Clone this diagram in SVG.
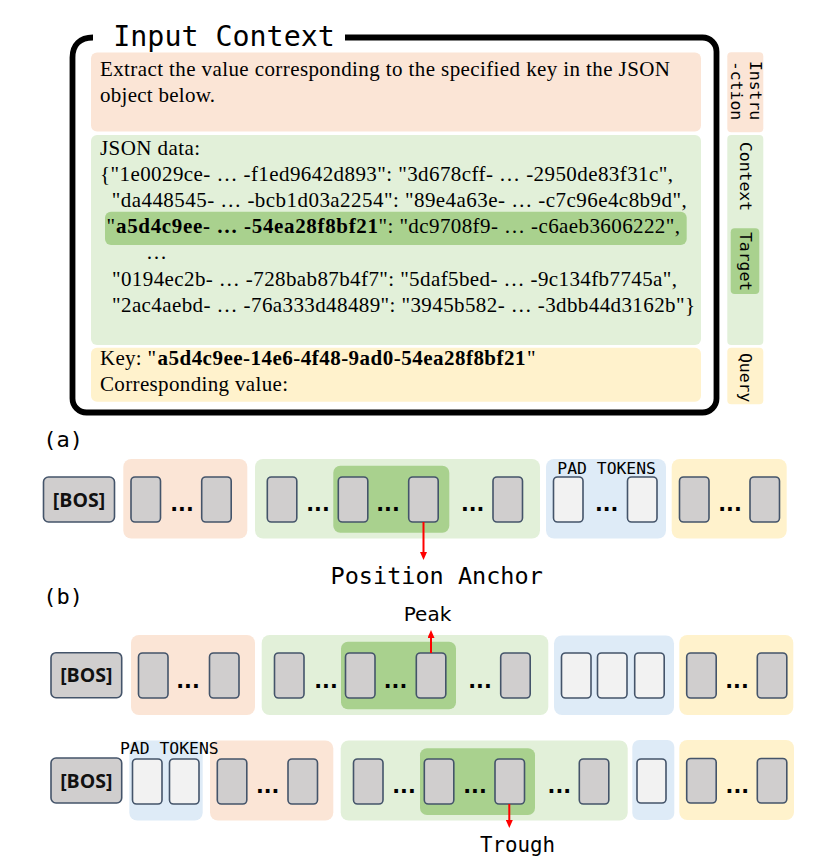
<svg xmlns="http://www.w3.org/2000/svg" width="830" height="865" viewBox="0 0 830 865">
<style>
.tok{fill:#D0CECE;stroke:#44546A;stroke-width:1.6}
.pad{fill:#F2F2F2;stroke:#44546A;stroke-width:1.6}
.or{fill:#FBE5D6}.gr{fill:#E2F0D9}.dg{fill:#A9D18E}.bl{fill:#DEEBF7}.ye{fill:#FFF2CC}
.dots{font-family:"DejaVu Sans",sans-serif;font-weight:bold;font-size:20.5px;text-anchor:middle;fill:#000}
.mono{font-family:"DejaVu Sans Mono","Liberation Mono",monospace;fill:#000}
.serif{font-family:"Liberation Serif","Times New Roman",serif;font-size:21px;fill:#000}
.b{font-weight:bold}
.bos{font-family:"Open Sans","DejaVu Sans",sans-serif;font-weight:bold;font-size:19.5px;text-anchor:middle;fill:#111}
.side{font-family:"DejaVu Sans Mono",monospace;font-size:16.4px;fill:#000}
.arr{stroke:#FF0000;stroke-width:2;fill:none;marker-end:url(#ah)}
</style>
<defs>
<marker id="ah" viewBox="0 0 8 7" refX="0" refY="3.5" markerWidth="4" markerHeight="3.5" orient="auto" markerUnits="strokeWidth">
<path d="M0,0 L8,3.5 L0,7 z" fill="#FF0000"/>
</marker>
</defs>

<!-- Input Context panel -->
<g id="input-context">
<path d="M93,37.5 C80,37.5 72.5,45 72.5,57.5 V398.5 A14 14 0 0 0 86.5,412.5 H702.5 A14 14 0 0 0 716.5,398.5 V51.5 A14 14 0 0 0 702.5,37.5 H345" fill="none" stroke="#000" stroke-width="5.8"/>
<text class="mono" x="113.3" y="46" font-size="28.3">Input Context</text>
</g>

<g id="instruction">
<rect class="or" x="91" y="52.5" width="610" height="79" rx="6"/>
<text class="serif" x="100" y="76" textLength="570" lengthAdjust="spacing">Extract the value corresponding to the specified key in the JSON</text>
<text class="serif" x="100" y="102" textLength="115" lengthAdjust="spacing">object below.</text>
</g>

<g id="context">
<rect class="gr" x="91" y="135" width="610" height="210" rx="6"/>
<text class="serif" x="100" y="155" textLength="100" lengthAdjust="spacing">JSON data:</text>
<text class="serif" x="100" y="181" textLength="573" lengthAdjust="spacing">{"1e0029ce- … -f1ed9642d893": "3d678cff- … -2950de83f31c",</text>
<text class="serif" x="111.7" y="207" textLength="575" lengthAdjust="spacing">"da448545- … -bcb1d03a2254": "89e4a63e- … -c7c96e4c8b9d",</text>
<g id="target">
<rect class="dg" x="105" y="211.7" width="581.7" height="33.3" rx="6"/>
<text class="serif" x="106.5" y="233">"</text>
<text class="serif b" x="116" y="233" textLength="262" lengthAdjust="spacing">a5d4c9ee- … -54ea28f8bf21</text>
<text class="serif" x="378.5" y="233" textLength="301.5" lengthAdjust="spacing">": "dc9708f9- … -c6aeb3606222",</text>
</g>
<text class="serif" x="146" y="259">…</text>
<text class="serif" x="112" y="285.5" textLength="565" lengthAdjust="spacing">"0194ec2b- … -728bab87b4f7": "5daf5bed- … -9c134fb7745a",</text>
<text class="serif" x="112" y="311.5" textLength="583" lengthAdjust="spacing">"2ac4aebd- … -76a333d48489": "3945b582- … -3dbb44d3162b"}</text>
</g>

<g id="query">
<rect class="ye" x="91" y="347.7" width="610" height="54" rx="6"/>
<text class="serif" x="100" y="365" textLength="56" lengthAdjust="spacing">Key: "</text>
<text class="serif b" x="157.5" y="365" textLength="368" lengthAdjust="spacing">a5d4c9ee-14e6-4f48-9ad0-54ea28f8bf21</text>
<text class="serif" x="527" y="365">"</text>
<text class="serif" x="100" y="391" textLength="188" lengthAdjust="spacing">Corresponding value:</text>
</g>

<!-- side labels -->
<g id="label-instruction">
<rect class="or" x="727.3" y="52.3" width="36" height="80" rx="4"/>
<text class="side" transform="translate(750,61) rotate(90)">Instru</text>
<text class="side" transform="translate(730.7,61) rotate(90)">-ction</text>
</g>
<g id="label-context">
<rect class="gr" x="727.3" y="135" width="36" height="210" rx="4"/>
<text class="side" transform="translate(740,142) rotate(90)">Context</text>
</g>
<g id="label-target">
<rect class="dg" x="730.7" y="228.3" width="28.6" height="65.7" rx="4"/>
<text class="side" transform="translate(740,232) rotate(90)">Target</text>
</g>
<g id="label-query">
<rect class="ye" x="727.3" y="347.7" width="36" height="56.6" rx="4"/>
<text class="side" transform="translate(740,353) rotate(90)">Query</text>
</g>

<!-- (a) -->
<text class="mono" x="43.3" y="446.5" font-size="22">(a)</text>
<g id="a-bos"><rect class="tok" x="43.5" y="477" width="71" height="45" rx="5"/><text class="bos" x="79" y="506.5">[BOS]</text></g>
<g id="a-instruction">
<rect class="or" x="123.3" y="459" width="124" height="79.5" rx="8"/>
<rect class="tok" x="131" y="477" width="29.5" height="45" rx="4"/>
<rect class="tok" x="201.7" y="477" width="29.5" height="45" rx="4"/>
<text class="dots" x="182" y="511">...</text>
</g>
<g id="a-context">
<rect class="gr" x="255" y="459" width="285" height="79.5" rx="8"/>
<rect class="dg" x="333.3" y="465.7" width="116" height="67" rx="7"/>
<rect class="tok" x="267.3" y="477" width="29.5" height="45" rx="4"/>
<rect class="tok" x="338.3" y="477" width="29.5" height="45" rx="4"/>
<rect class="tok" x="408.7" y="477" width="29.5" height="45" rx="4"/>
<rect class="tok" x="493" y="477" width="29.5" height="45" rx="4"/>
<text class="dots" x="318" y="511">...</text>
<text class="dots" x="388" y="511">...</text>
<text class="dots" x="472.7" y="511">...</text>
</g>
<g id="a-pad">
<rect class="bl" x="546" y="459" width="120" height="79.5" rx="8"/>
<text class="mono" x="557.3" y="474" font-size="16.4">PAD TOKENS</text>
<rect class="pad" x="553.5" y="477" width="29.5" height="45" rx="4"/>
<rect class="pad" x="627.5" y="477" width="29.5" height="45" rx="4"/>
<text class="dots" x="606.7" y="511">...</text>
</g>
<g id="a-query">
<rect class="ye" x="671.7" y="459" width="115" height="79.5" rx="8"/>
<rect class="tok" x="679.5" y="477" width="29.5" height="45" rx="4"/>
<rect class="tok" x="750" y="477" width="29.5" height="45" rx="4"/>
<text class="dots" x="730" y="511">...</text>
</g>
<text id="a-anchor-label" class="mono" x="436.7" y="584" font-size="23.5" text-anchor="middle">Position Anchor</text>

<!-- (b) -->
<text class="mono" x="43.3" y="604" font-size="22">(b)</text>
<g id="b1-bos"><rect class="tok" x="51" y="652.7" width="70.7" height="45" rx="5"/><text class="bos" x="86.3" y="682">[BOS]</text></g>
<g id="b1-instruction">
<rect class="or" x="131" y="635" width="124" height="80" rx="8"/>
<rect class="tok" x="138.5" y="653" width="29.5" height="45" rx="4"/>
<rect class="tok" x="209.5" y="653" width="29.5" height="45" rx="4"/>
<text class="dots" x="188" y="688">...</text>
</g>
<g id="b1-context">
<rect class="gr" x="261.7" y="635" width="286.6" height="80" rx="8"/>
<rect class="dg" x="341" y="641.7" width="115" height="67.6" rx="7"/>
<rect class="tok" x="274.5" y="653" width="29.5" height="45" rx="4"/>
<rect class="tok" x="345.5" y="653" width="29.5" height="45" rx="4"/>
<rect class="tok" x="416.3" y="653" width="29.5" height="45" rx="4"/>
<rect class="tok" x="500.7" y="653" width="29.5" height="45" rx="4"/>
<text class="dots" x="326" y="688">...</text>
<text class="dots" x="395.5" y="688">...</text>
<text class="dots" x="480" y="688">...</text>
</g>
<g id="b1-pad">
<rect class="bl" x="554" y="635.5" width="120" height="79.5" rx="8"/>
<rect class="pad" x="561.5" y="653" width="29.5" height="45" rx="4"/>
<rect class="pad" x="597.5" y="653" width="29.5" height="45" rx="4"/>
<rect class="pad" x="634.7" y="653" width="29.5" height="45" rx="4"/>
</g>
<g id="b1-query">
<rect class="ye" x="679.3" y="635" width="114" height="80" rx="8"/>
<rect class="tok" x="686.7" y="653" width="29.5" height="45" rx="4"/>
<rect class="tok" x="757.3" y="653" width="29.5" height="45" rx="4"/>
<text class="dots" x="737" y="688">...</text>
</g>
<text id="b1-peak-label" x="427.5" y="620.7" font-family="DejaVu Sans, sans-serif" font-size="20" text-anchor="middle" fill="#000">Peak</text>

<g id="b2-bos"><rect class="tok" x="51" y="758" width="70.7" height="45" rx="5"/><text class="bos" x="86.3" y="787.5">[BOS]</text></g>
<g id="b2-instruction">
<rect class="or" x="210" y="740.5" width="123.3" height="80" rx="8"/>
<rect class="tok" x="217.3" y="759" width="29.5" height="45" rx="4"/>
<rect class="tok" x="288" y="759" width="29.5" height="45" rx="4"/>
<text class="dots" x="267.7" y="793">...</text>
</g>
<g id="b2-pad-front">
<rect class="bl" x="129.3" y="740.5" width="73.4" height="80" rx="8"/>
<rect class="pad" x="132.5" y="759" width="29.5" height="45" rx="4"/>
<rect class="pad" x="169.5" y="759" width="29.5" height="45" rx="4"/>
<text class="mono" x="120" y="754" font-size="16.4">PAD TOKENS</text>
</g>
<g id="b2-context">
<rect class="gr" x="340.7" y="740.5" width="287" height="80" rx="8"/>
<rect class="dg" x="420" y="748.3" width="115" height="66.7" rx="7"/>
<rect class="tok" x="353.5" y="759" width="29.5" height="45" rx="4"/>
<rect class="tok" x="424.3" y="759" width="29.5" height="45" rx="4"/>
<rect class="tok" x="495" y="759" width="29.5" height="45" rx="4"/>
<rect class="tok" x="579.3" y="759" width="29.5" height="45" rx="4"/>
<text class="dots" x="404" y="793">...</text>
<text class="dots" x="475" y="793">...</text>
<text class="dots" x="559.3" y="793">...</text>
</g>
<g id="b2-pad-mid">
<rect class="bl" x="632.3" y="740" width="42" height="80" rx="7"/>
<rect class="pad" x="637" y="759" width="29" height="44" rx="4"/>
</g>
<g id="b2-query">
<rect class="ye" x="679.3" y="740" width="114.7" height="80" rx="8"/>
<rect class="tok" x="686.7" y="758.5" width="29.5" height="44.5" rx="4"/>
<rect class="tok" x="757.3" y="758.5" width="29.5" height="44.5" rx="4"/>
<text class="dots" x="737.3" y="793">...</text>
</g>
<text id="b2-trough-label" class="mono" x="517.5" y="851.7" font-size="20.8" text-anchor="middle">Trough</text>

<!-- connectors -->
<g id="connectors">
<line class="arr" x1="423.5" y1="522" x2="423.5" y2="552"/>
<line class="arr" x1="431" y1="653" x2="431" y2="638"/>
<line class="arr" x1="509.3" y1="804" x2="509.3" y2="820"/>
</g>
</svg>
